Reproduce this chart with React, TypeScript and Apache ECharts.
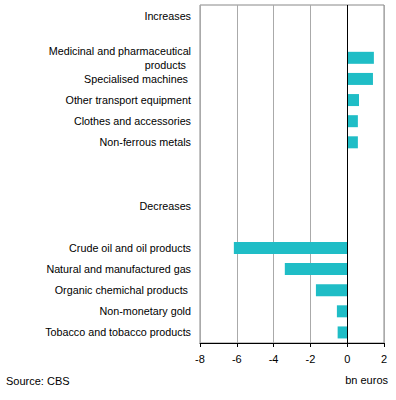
import React, { useEffect, useRef } from "react";
import * as echarts from "echarts";

const categories = [
  "Increases",
  "",
  "Medicinal and pharmaceutical\nproducts",
  "Specialised machines",
  "Other transport equipment",
  "Clothes and accessories",
  "Non-ferrous metals",
  " ",
  "  ",
  "Decreases",
  "   ",
  "Crude oil and oil products",
  "Natural and manufactured gas",
  "Organic chemichal products",
  "Non-monetary gold",
  "Tobacco and tobacco products",
];

const values: (number | null)[] = [
  null, null, 1.45, 1.4, 0.64, 0.58, 0.58, null, null, null, null,
  -6.16, -3.39, -1.7, -0.56, -0.52,
];

const xTicks = [-8, -6, -4, -2, 0, 2];

const trailingSpace = ["Specialised machines", "Organic chemichal products"];

export default function App() {
  const ref = useRef<HTMLDivElement>(null);
  useEffect(() => {
    if (!ref.current) return;
    const chart = echarts.init(ref.current, undefined, { renderer: "svg" });
    const font = "'Liberation Sans', Arial, sans-serif";
    chart.setOption({
      animation: false,
      textStyle: { fontFamily: font },
      grid: {
        left: 200,
        right: 12,
        top: 5,
        bottom: 57,
        show: true,
        borderColor: "#888",
        borderWidth: 1,
      },
      xAxis: {
        type: "value",
        min: xTicks[0],
        max: xTicks[xTicks.length - 1],
        interval: 2,
        axisLine: { show: true, lineStyle: { color: "#000", width: 1 } },
        axisTick: { show: true, length: 4, lineStyle: { color: "#000" } },
        axisLabel: { color: "#000", fontSize: 11, fontFamily: font, margin: 10 },
        splitLine: { show: true, lineStyle: { color: "#aaa", width: 1 } },
      },
      yAxis: {
        type: "category",
        data: categories,
        inverse: true,
        axisLine: { show: false },
        axisTick: { show: false },
        axisLabel: {
          color: "#000",
          fontSize: 10.75,
          fontFamily: font,
          margin: 9,
          lineHeight: 14,
          interval: 0,
          formatter: (v: string) => {
            if (v.indexOf("\n") >= 0) {
              const parts = v.split("\n");
              return `{n|${parts[0]}}\n{s|${parts[1]}}`;
            }
            if (trailingSpace.indexOf(v) >= 0) return `{t|${v}}`;
            return v;
          },
          rich: {
            n: { fontSize: 10.75, fontFamily: font, color: "#000", lineHeight: 14 },
            s: { fontSize: 10.75, fontFamily: font, color: "#000", lineHeight: 14, padding: [0, 5, 0, 0] },
            t: { fontSize: 10.75, fontFamily: font, color: "#000", padding: [0, 3, 0, 0] },
          },
        },
        splitLine: { show: false },
      },
      series: [
        {
          type: "bar",
          data: values,
          barWidth: 12,
          itemStyle: { color: "#1fbdc6" },
          markLine: {
            silent: true,
            symbol: "none",
            label: { show: false },
            lineStyle: { color: "#000", type: "solid", width: 1 },
            data: [{ xAxis: 0 }],
          },
        },
      ],
      graphic: [
        {
          type: "text",
          right: 8,
          top: 374,
          style: { text: "bn euros", fill: "#000", font: `11px ${font}` },
        },
        {
          type: "text",
          left: 6,
          top: 375,
          style: { text: "Source: CBS", fill: "#000", font: `11px ${font}` },
        },
      ],
    });
    return () => chart.dispose();
  }, []);
  return <div ref={ref} style={{ width: 396, height: 400, position: "absolute", left: 0, top: 0 }} />;
}
